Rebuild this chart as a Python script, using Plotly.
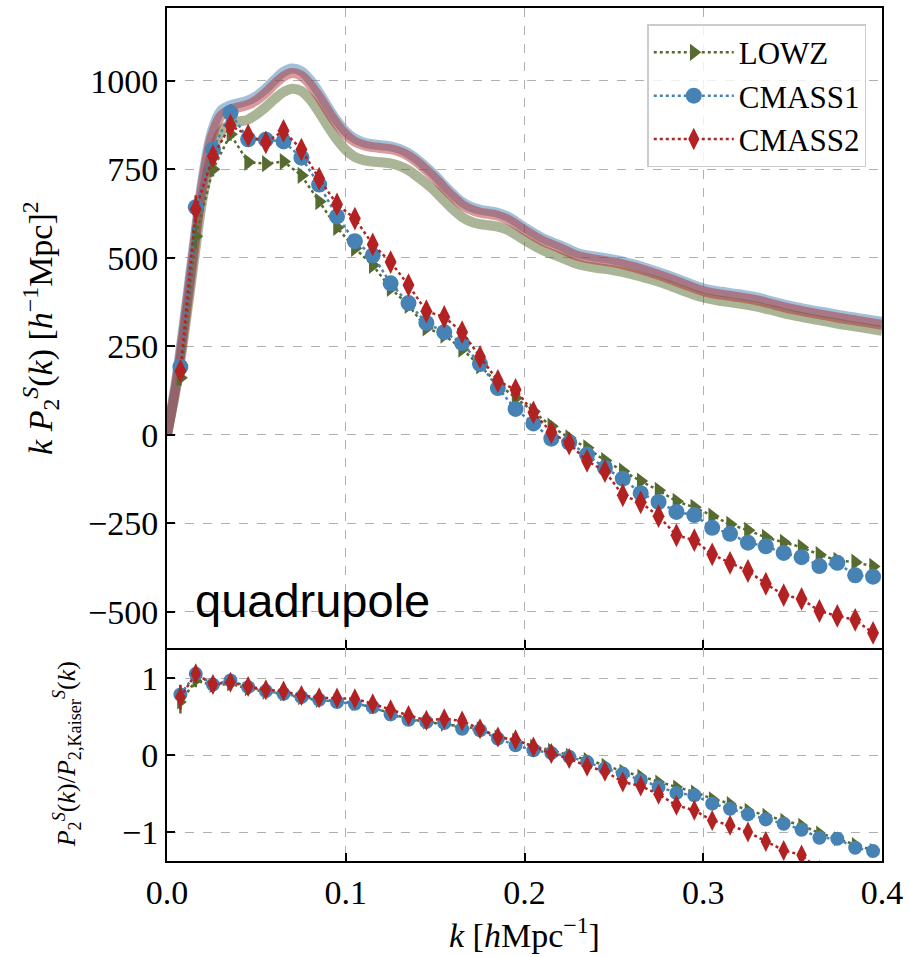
import plotly.graph_objects as go
from plotly.subplots import make_subplots

# Effective wavenumbers of the k-bins [h/Mpc]
k_bins = [0.0075, 0.0161, 0.0257, 0.0355, 0.0454, 0.0553, 0.0652, 0.0752, 0.0851, 0.0951,
          0.1051, 0.1151, 0.1251, 0.1351, 0.1451, 0.1551, 0.1651, 0.1751, 0.1851, 0.1950,
          0.2050, 0.2150, 0.2250, 0.2350, 0.2450, 0.2550, 0.2650, 0.2750, 0.2850, 0.2950,
          0.3050, 0.3150, 0.3250, 0.3350, 0.3450, 0.3550, 0.3650, 0.3750, 0.3850, 0.3950]

# k * P_2(k) measurements
lowz_p2 = [161, 561, 750, 849, 770, 766, 772, 733, 659, 586,
           527, 479, 414, 366, 302, 282, 242, 195, 145, 104,
           66, 24, -9, -37, -73, -103, -131, -157, -188, -205,
           -230, -253, -270, -290, -304, -318, -339, -355, -360, -372]
cmass1_p2 = [192, 643, 806, 910, 835, 834, 829, 783, 707, 617,
             547, 507, 428, 372, 316, 290, 259, 200, 132, 73,
             32, -11, -22, -56, -94, -124, -165, -190, -218, -227,
             -263, -280, -305, -315, -334, -346, -371, -362, -397, -401]
cmass2_p2 = [180, 637, 787, 874, 846, 826, 859, 806, 724, 651,
             611, 538, 488, 423, 349, 333, 290, 220, 152, 127,
             63, 7, -25, -74, -103, -171, -191, -230, -284, -298,
             -338, -362, -385, -421, -453, -464, -498, -512, -523, -560]

lowz_p2_err = [22, 35, 20, 18, 14, 12, 12, 10, 10, 9, 8, 8, 8, 7, 7, 7, 6, 6, 6, 6,
               6, 5, 5, 5, 5, 5, 5, 5, 5, 5, 5, 5, 5, 5, 5, 5, 5, 5, 5, 5]
cmass1_p2_err = [20, 30, 18, 25, 12, 10, 10, 9, 8, 8, 7, 7, 7, 6, 6, 6, 6, 5, 5, 5,
                 5, 5, 5, 5, 5, 5, 5, 5, 5, 5, 5, 5, 5, 5, 5, 5, 5, 5, 5, 5]
cmass2_p2_err = [25, 40, 22, 20, 15, 13, 25, 12, 10, 9, 8, 8, 8, 7, 7, 7, 6, 6, 6, 6,
                 6, 5, 5, 5, 5, 5, 5, 5, 5, 5, 5, 5, 5, 5, 5, 5, 5, 5, 5, 5]

# Ratio to the Kaiser prediction
lowz_ratio = [0.693, 0.974, 0.909, 0.93, 0.866, 0.822, 0.80, 0.749, 0.714, 0.714,
              0.671, 0.628, 0.541, 0.476, 0.433, 0.403, 0.368, 0.346, 0.238, 0.195,
              0.117, 0.065, 0.0, -0.057, -0.13, -0.209, -0.274, -0.348, -0.413, -0.478,
              -0.565, -0.630, -0.717, -0.783, -0.848, -0.913, -1.013, -1.087, -1.161, -1.239]
cmass1_ratio = [0.792, 1.06, 0.92, 0.974, 0.887, 0.835, 0.80, 0.757, 0.723, 0.693,
                0.671, 0.628, 0.532, 0.463, 0.433, 0.420, 0.346, 0.325, 0.216, 0.130,
                0.065, 0.03, -0.02, -0.087, -0.174, -0.239, -0.326, -0.413, -0.491, -0.522,
                -0.630, -0.696, -0.770, -0.835, -0.891, -0.970, -1.074, -1.087, -1.204, -1.248]
cmass2_ratio = [0.757, 1.06, 0.922, 0.952, 0.896, 0.853, 0.835, 0.779, 0.749, 0.745,
                0.736, 0.671, 0.593, 0.519, 0.455, 0.476, 0.446, 0.346, 0.238, 0.203,
                0.108, 0.022, -0.043, -0.143, -0.209, -0.348, -0.40, -0.509, -0.652, -0.717,
                -0.848, -0.913, -1.0, -1.122, -1.239, -1.30, -1.50, -1.56, -1.62, -1.74]

lowz_ratio_err = [0.15, 0.09] + [0.03] * 38
cmass1_ratio_err = [0.12, 0.08] + [0.03] * 38
cmass2_ratio_err = [0.16, 0.09] + [0.03] * 38

# Model curves (Kaiser-type prediction) for each sample
k_model = [0.0, 0.005, 0.01, 0.015, 0.02, 0.025, 0.03, 0.035, 0.04, 0.045,
           0.05, 0.055, 0.06, 0.065, 0.07, 0.075, 0.08, 0.085, 0.09, 0.095,
           0.10, 0.105, 0.11, 0.115, 0.12, 0.125, 0.13, 0.135, 0.14, 0.145,
           0.15, 0.155, 0.16, 0.165, 0.17, 0.175, 0.18, 0.185, 0.19, 0.195,
           0.20, 0.21, 0.22, 0.23, 0.24, 0.25, 0.26, 0.27, 0.28, 0.29,
           0.30, 0.31, 0.32, 0.33, 0.34, 0.35, 0.36, 0.37, 0.38, 0.39, 0.40]
lowz_model = [0, 130, 300, 490, 670, 790, 855, 878, 885, 890,
              905, 925, 948, 968, 978, 972, 948, 912, 872, 835,
              805, 785, 776, 772, 770, 767, 760, 748, 730, 710,
              688, 662, 637, 616, 602, 595, 592, 588, 580, 566,
              550, 522, 502, 482, 472, 465, 454, 440, 424, 405,
              388, 378, 371, 362, 350, 338, 328, 319, 310, 302, 294]
cmass1_model = [0, 150, 335, 535, 725, 855, 915, 930, 937, 944,
                957, 977, 1002, 1025, 1035, 1028, 1003, 967, 926, 888,
                857, 837, 826, 821, 818, 815, 808, 796, 778, 756,
                733, 705, 680, 658, 644, 636, 632, 627, 618, 603,
                586, 556, 535, 513, 503, 495, 483, 468, 451, 432,
                414, 404, 397, 388, 375, 363, 353, 344, 335, 327, 319]
cmass2_model = [0, 140, 320, 520, 710, 840, 900, 918, 925, 932,
                945, 965, 990, 1012, 1022, 1015, 990, 955, 915, 878,
                848, 828, 818, 813, 810, 807, 800, 788, 770, 748,
                725, 697, 672, 650, 636, 628, 624, 619, 610, 595,
                578, 548, 527, 505, 495, 487, 475, 460, 443, 424,
                406, 396, 389, 380, 367, 355, 345, 336, 327, 319, 311]

samples = ["LOWZ", "CMASS1", "CMASS2"]
colors = {"LOWZ": "#556B2F", "CMASS1": "#4682B4", "CMASS2": "#B22222"}
band_colors = {"LOWZ": "rgba(85,107,47,0.5)", "CMASS1": "rgba(70,130,180,0.5)",
               "CMASS2": "rgba(178,34,34,0.45)"}
symbols = {"LOWZ": "triangle-right", "CMASS1": "circle", "CMASS2": "diamond-tall"}
msizes = {"LOWZ": 15, "CMASS1": 16, "CMASS2": 17}
models = {"LOWZ": lowz_model, "CMASS1": cmass1_model, "CMASS2": cmass2_model}
p2 = {"LOWZ": lowz_p2, "CMASS1": cmass1_p2, "CMASS2": cmass2_p2}
p2_err = {"LOWZ": lowz_p2_err, "CMASS1": cmass1_p2_err, "CMASS2": cmass2_p2_err}
ratio = {"LOWZ": lowz_ratio, "CMASS1": cmass1_ratio, "CMASS2": cmass2_ratio}
ratio_err = {"LOWZ": lowz_ratio_err, "CMASS1": cmass1_ratio_err, "CMASS2": cmass2_ratio_err}

SERIF = "Liberation Serif"

fig = make_subplots(rows=2, cols=1, shared_xaxes=True, vertical_spacing=0,
                    row_heights=[642, 213])

for s in samples:
    fig.add_trace(go.Scatter(x=k_model, y=models[s], mode="lines",
                             line=dict(color=band_colors[s], width=10, shape="spline"),
                             showlegend=False, hoverinfo="skip"), row=1, col=1)

for s in samples:
    fig.add_trace(go.Scatter(
        x=k_bins, y=p2[s], mode="lines+markers", name=s,
        line=dict(color=colors[s], width=2.5, dash="dot"),
        marker=dict(symbol=symbols[s], size=msizes[s], color=colors[s],
                    line=dict(width=0)),
        error_y=dict(type="data", array=p2_err[s], thickness=2.5, width=0,
                     color=colors[s]),
    ), row=1, col=1)

for s in samples:
    fig.add_trace(go.Scatter(
        x=k_bins, y=ratio[s], mode="lines+markers", name=s, showlegend=False,
        line=dict(color=colors[s], width=2.5, dash="dot"),
        marker=dict(symbol=symbols[s], size=msizes[s] - 2, color=colors[s],
                    line=dict(width=0)),
        error_y=dict(type="data", array=ratio_err[s], thickness=2.5, width=0,
                     color=colors[s]),
    ), row=2, col=1)

axis_common = dict(
    showline=True, linecolor="black", linewidth=2, mirror=True,
    ticks="inside", ticklen=8, tickwidth=1.5, tickcolor="black",
    showgrid=True, gridcolor="#b0b0b0", gridwidth=1, griddash="dash",
    zeroline=False, tickfont=dict(family=SERIF, size=34, color="black"),
)

fig.update_xaxes(range=[0, 0.4], tickvals=[0, 0.1, 0.2, 0.3, 0.4],
                 ticktext=["0.0", "0.1", "0.2", "0.3", "0.4"], **axis_common)
fig.update_xaxes(showticklabels=False, row=1, col=1)
# the panel boundary is drawn once, by the upper panel's frame
fig.update_xaxes(mirror=False, row=2, col=1)
fig.update_yaxes(range=[-604, 1206], tickvals=[-500, -250, 0, 250, 500, 750, 1000],
                 row=1, col=1, **axis_common)
fig.update_yaxes(range=[-1.377, 1.39], tickvals=[-1, 0, 1], row=2, col=1, **axis_common)

annotations = [
    dict(text="<i>k P</i><sub>2</sub><sup><i>S</i></sup>(<i>k</i>) [<i>h</i><sup>−1</sup>Mpc]<sup>2</sup>",
         xref="paper", yref="paper", x=-0.178, y=0.6246, xanchor="center", yanchor="middle",
         textangle=-90, showarrow=False, font=dict(family=SERIF, size=34, color="black")),
    dict(text="<i>P</i><sub>2</sub><sup><i>S</i></sup>(<i>k</i>)/<i>P</i><sub>2,Kaiser</sub><sup><i>S</i></sup>(<i>k</i>)",
         xref="paper", yref="paper", x=-0.14, y=0.125, xanchor="center", yanchor="middle",
         textangle=-90, showarrow=False, font=dict(family=SERIF, size=26, color="black")),
    dict(text="<i>k</i> [<i>h</i>Mpc<sup>−1</sup>]",
         xref="paper", yref="paper", x=0.5, y=-0.084, xanchor="center", yanchor="middle",
         showarrow=False, font=dict(family=SERIF, size=34, color="black")),
    dict(text="quadrupole", xref="paper", yref="paper", x=0.037, y=0.305,
         xanchor="left", yanchor="middle", showarrow=False,
         font=dict(family="Liberation Sans", size=47, color="black")),
]

fig.update_layout(
    width=909, height=957,
    margin=dict(l=167, r=26, t=6, b=96),
    paper_bgcolor="white", plot_bgcolor="white",
    annotations=annotations,
    legend=dict(x=0.978, y=0.981, xanchor="right", yanchor="top",
                bgcolor="rgba(255,255,255,0.8)", bordercolor="#cccccc", borderwidth=1.5,
                font=dict(family=SERIF, size=31, color="black"),
                tracegroupgap=0, itemwidth=80),
    showlegend=True,
)

fig.write_html("out.html")
